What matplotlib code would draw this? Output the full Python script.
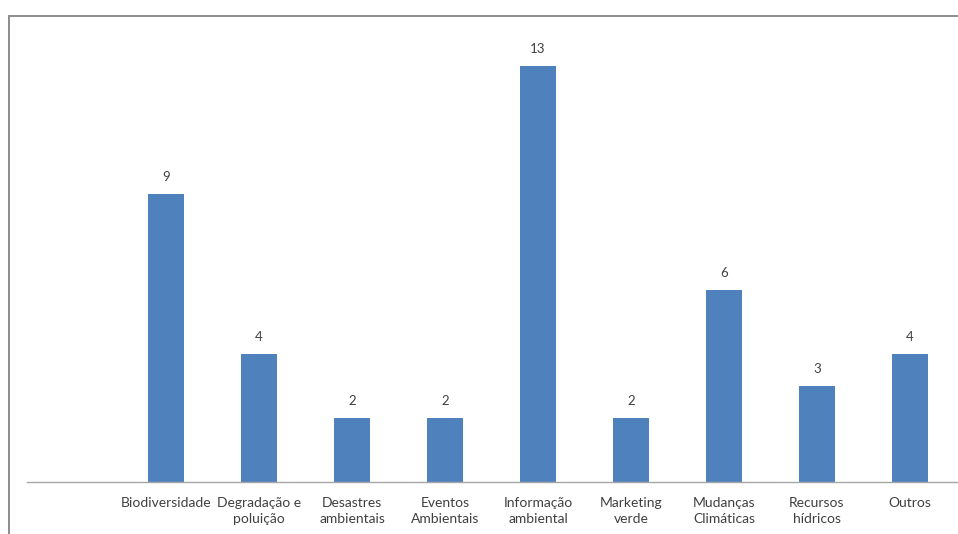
import matplotlib
matplotlib.use('Agg')
import matplotlib.pyplot as plt
from matplotlib.lines import Line2D
import numpy as np

categorias = ['Biodiversidade', 'Degradação e\npoluição', 'Desastres\nambientais',
              'Eventos\nAmbientais', 'Informação\nambiental', 'Marketing\nverde',
              'Mudanças\nClimáticas', 'Recursos\nhídricos', 'Outros']
valores = [9, 4, 2, 2, 13, 2, 6, 3, 4]

plt.rcParams['font.family'] = ['Lato', 'DejaVu Sans']

W, H = 958, 534
fig = plt.figure(figsize=(W / 100, H / 100), dpi=100)
# plot area in pixels: x 26.5 -> 956.5, y 34 -> 482
ax = fig.add_axes([26.5 / W, (H - 482) / H, 930 / W, 448 / H])

x = np.arange(len(categorias))
bars = ax.bar(x, valores, width=0.39, color='#4F81BD', zorder=2)

# empty first slot like the original sheet
ax.set_xlim(-1.5, len(categorias) - 0.5)
ax.set_ylim(0, 14)

for b, v in zip(bars, valores):
    ax.annotate(str(v), (b.get_x() + b.get_width() / 2, v), xytext=(0, 8),
                textcoords='offset points', ha='center', va='bottom',
                fontsize=9.5, color='#404040')

ax.set_xticks(x)
ax.set_xticklabels(categorias, fontsize=10, color='#404040', linespacing=1.35)
ax.tick_params(axis='x', length=0, pad=11)
ax.set_yticks([])

for s in ['top', 'right', 'left']:
    ax.spines[s].set_visible(False)
ax.spines['bottom'].set_color('#A6A6A6')
ax.spines['bottom'].set_linewidth(1.0)

# chart frame (top and left edges visible in the crop)
fig.add_artist(Line2D([8.5 / W, 1.0], [1 - 16 / H, 1 - 16 / H], color='#8C8C8C',
                      linewidth=1.4, transform=fig.transFigure))
fig.add_artist(Line2D([8.5 / W, 8.5 / W], [0, 1 - 16 / H], color='#8C8C8C',
                      linewidth=1.4, transform=fig.transFigure))

fig.savefig('out.png', dpi=100)
